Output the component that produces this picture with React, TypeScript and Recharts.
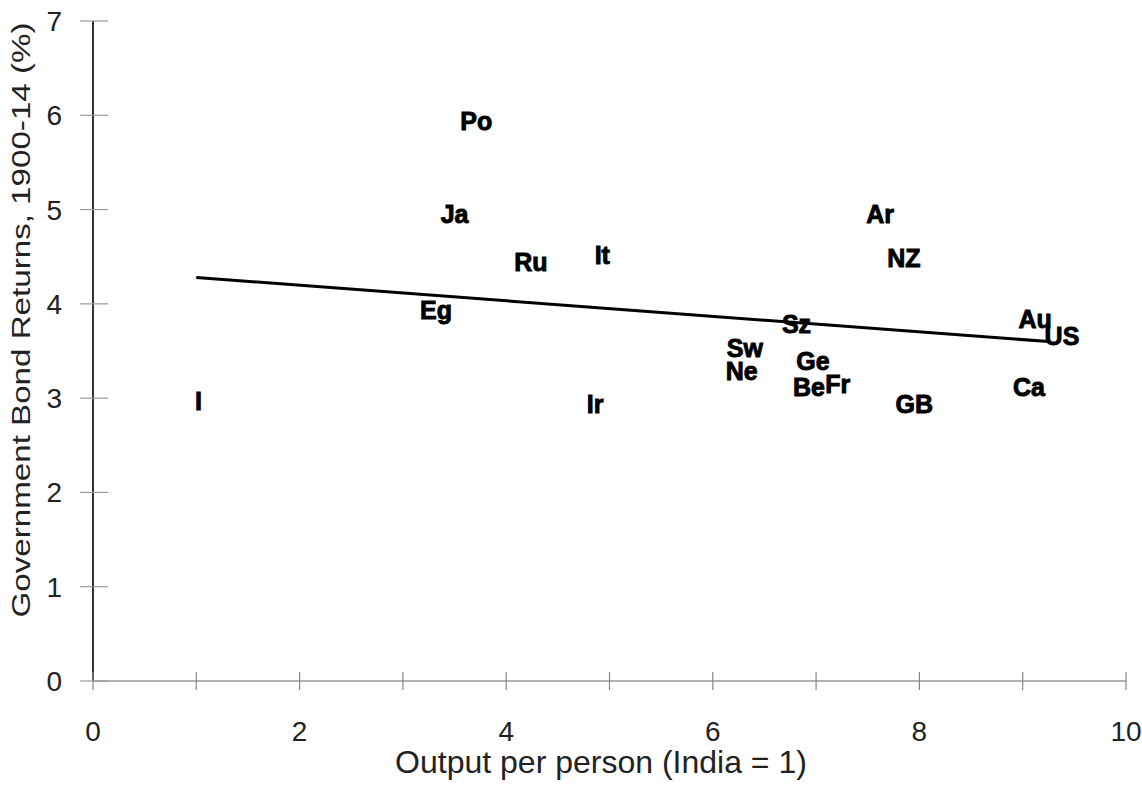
import React from 'react';
import { ScatterChart, Scatter, XAxis, YAxis, Label } from 'recharts';

const countries = ['I', 'Eg', 'Ja', 'Po', 'Ru', 'It', 'Ir', 'Sw', 'Ne', 'Sz', 'Ge', 'Be', 'Fr', 'GB', 'Ar', 'NZ', 'Au', 'US', 'Ca'];
const outputPerPerson = [1.02, 3.32, 3.5, 3.71, 4.24, 4.93, 4.86, 6.31, 6.28, 6.81, 6.97, 6.93, 7.21, 7.95, 7.62, 7.85, 9.12, 9.38, 9.06];
const bondReturns = [2.97, 3.93, 4.95, 5.94, 4.44, 4.52, 2.94, 3.53, 3.29, 3.79, 3.39, 3.12, 3.15, 2.94, 4.95, 4.49, 3.84, 3.66, 3.12];

const trendX = [1.0, 9.25];
const trendY = [4.28, 3.6];

const xTicks = [0, 1, 2, 3, 4, 5, 6, 7, 8, 9, 10];
const yTicks = [0, 1, 2, 3, 4, 5, 6, 7];

const xTitle = 'Output per person (India = 1)';
const yTitle = 'Government Bond Returns, 1900-14 (%)';

const points = countries.map((name, i) => ({ name, x: outputPerPerson[i], y: bondReturns[i] }));
const trend = trendX.map((x, i) => ({ x, y: trendY[i] }));

const FONT = '"Liberation Sans", Arial, sans-serif';
const X_MARGIN = 20;
const Y_MARGIN = 31;

const XTick = (props: any) => {
  const { x, y, payload } = props;
  const axisY = y - X_MARGIN;
  const v = payload.value;
  return (
    <g>
      <line x1={x} x2={x} y1={axisY - 9} y2={axisY + 9} stroke="#888" strokeWidth={1.2} />
      {v % 2 === 0 && (
        <text x={x} y={axisY + 60} textAnchor="middle" fontFamily={FONT} fontSize={28} fill="#222">
          {v}
        </text>
      )}
    </g>
  );
};

const YTick = (props: any) => {
  const { x, y, payload } = props;
  const axisX = x + Y_MARGIN;
  return (
    <g>
      <line x1={axisX - 13} x2={axisX + 15} y1={y} y2={y} stroke="#999" strokeWidth={1.2} />
      <text x={x} y={y + 10} textAnchor="end" fontFamily={FONT} fontSize={28} fill="#222">
        {payload.value}
      </text>
    </g>
  );
};

const CountryLabel = (props: any) => {
  const { cx, cy, payload } = props;
  return (
    <text
      x={cx}
      y={cy}
      dy="0.36em"
      textAnchor="middle"
      fontFamily={FONT}
      fontWeight="bold"
      fontSize={25}
      fill="#000"
      stroke="#000"
      strokeWidth={0.9}
    >
      {payload.name}
    </text>
  );
};

const NoShape = () => null;

export default function App() {
  return (
    <div style={{ position: 'absolute', left: 0, top: 0, width: 1142, height: 789, background: '#fff' }}>
      <ScatterChart width={1142} height={789} margin={{ top: 21, right: 16, left: 0, bottom: 0 }}>
        {/* frame top/right */}
        <XAxis
          xAxisId="top"
          orientation="top"
          type="number"
          dataKey="x"
          domain={[0, 10]}
          ticks={[]}
          tick={false}
          tickLine={false}
          height={0}
          axisLine={{ stroke: '#999', strokeWidth: 1.5 }}
        />
        <YAxis
          yAxisId="right"
          orientation="right"
          type="number"
          dataKey="y"
          domain={[0, 7]}
          ticks={[]}
          tick={false}
          tickLine={false}
          width={0}
          axisLine={{ stroke: '#999', strokeWidth: 1.5 }}
        />
        <XAxis
          type="number"
          dataKey="x"
          domain={[0, 10]}
          ticks={xTicks}
          interval={0}
          tick={<XTick />}
          tickLine={false}
          tickSize={0}
          tickMargin={X_MARGIN}
          height={108}
          axisLine={{ stroke: '#999', strokeWidth: 1.5 }}
        >
          <Label
            content={(p: any) => {
              const vb = p.viewBox;
              return (
                <text x={601} y={vb.y + 92} textAnchor="middle" fontFamily={FONT} fontSize={32} fill="#222">
                  {xTitle}
                </text>
              );
            }}
          />
        </XAxis>
        <YAxis
          type="number"
          dataKey="y"
          domain={[0, 7]}
          ticks={yTicks}
          interval={0}
          tick={<YTick />}
          tickLine={false}
          tickSize={0}
          tickMargin={Y_MARGIN}
          width={93}
          axisLine={{ stroke: '#333', strokeWidth: 2 }}
        >
          <Label
            content={(p: any) => {
              return (
                <text
                  x={30}
                  y={320}
                  transform="rotate(-90 30 320)"
                  textAnchor="middle"
                  fontFamily={FONT}
                  fontSize={25}
                  fill="#222"
                  textLength={595}
                  lengthAdjust="spacingAndGlyphs"
                >
                  {yTitle}
                </text>
              );
            }}
          />
        </YAxis>
        <Scatter
          data={trend}
          line={{ stroke: '#000', strokeWidth: 3 }}
          shape={<NoShape />}
          isAnimationActive={false}
        />
        <Scatter data={points} shape={<CountryLabel />} isAnimationActive={false} />
      </ScatterChart>
    </div>
  );
}
